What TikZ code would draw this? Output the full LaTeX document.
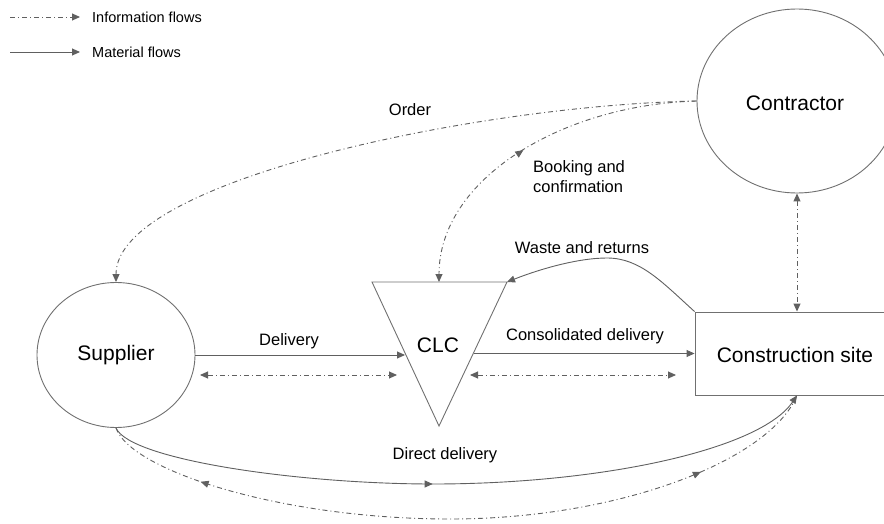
\documentclass[tikz,border=0pt]{standalone}
\usepackage{fontspec}
\setmainfont{Liberation Sans}
\usetikzlibrary{arrows.meta,shapes.geometric,decorations.markings,calc}

\definecolor{edgegray}{RGB}{96,96,96}
\definecolor{shapegray}{RGB}{112,112,112}

\tikzset{
  >={Triangle[length=8pt,width=7pt]},
  shapeline/.style={draw=shapegray, line width=0.9pt},
  bigtext/.style={font=\fontsize{21}{25}\selectfont, text=black, inner sep=0pt},
  lbltext/.style={font=\fontsize{16.5}{20}\selectfont, text=black, inner sep=0pt},
  legtext/.style={font=\fontsize{14.5}{17}\selectfont, text=black, inner sep=0pt, anchor=west},
  matflow/.style={color=edgegray, line width=0.9pt},
  infoflow/.style={color=edgegray, line width=0.9pt, dash pattern=on 5pt off 3pt on 1pt off 3pt},
  midfwd/.style={postaction={decorate, decoration={markings, mark=at position #1 with {\arrow{>}}}}},
  midback/.style={postaction={decorate, decoration={markings, mark=at position #1 with {\arrow{<}}}}},
}

\begin{document}
\begin{tikzpicture}[x=1pt, y=-1pt]
\useasboundingbox (0,0) rectangle (884,524);

% legend
\coordinate (legInfoA) at (10,17);
\coordinate (legInfoB) at (80,17);
\coordinate (legMatA) at (10,52);
\coordinate (legMatB) at (80,52);
\draw[infoflow, ->] (legInfoA) -- (legInfoB);
\draw[matflow, ->] (legMatA) -- (legMatB);
\node[legtext] (legInfo) at (92,17) {Information flows};
\node[legtext] (legMat) at (92,52) {Material flows};

% actors
\node[ellipse, shapeline, minimum width=158pt, minimum height=145pt, inner sep=0pt] (sup) at (116,355) {};
\node[bigtext] (supText) at (116,355) {Supplier};
\node[ellipse, shapeline, minimum width=200pt, minimum height=184pt, inner sep=0pt] (con) at (797,101) {};
\node[bigtext] (conText) at (795,103) {Contractor};
\node[rectangle, shapeline, minimum width=204pt, minimum height=83pt, inner sep=0pt] (site) at (797,353.5) {};
\node[bigtext] (siteText) at (795,355) {Construction site};

% consolidation centre (downward triangle)
\coordinate (clcTL) at (372,282);
\coordinate (clcTR) at (507,282);
\coordinate (clcB) at (439,426);
\draw[shapeline, line join=miter] (clcTL) -- (clcTR) -- (clcB) -- cycle;
\node[bigtext] (clc) at (438,345) {CLC};
\coordinate (clcTop) at (439,282);
\coordinate (clcInL) at (405,355);
\coordinate (clcInfoL) at (397,375);
\coordinate (clcOutR) at (474,353.5);
\coordinate (clcInfoR) at (470,375);
\coordinate (supInfo) at (200,375);
\coordinate (siteInfo) at (676,375);

% material flows
\draw[matflow, ->] (sup.east) -- (clcInL);
\draw[matflow, ->] (clcOutR) -- (site.west);
\draw[matflow, ->] (site.north west) .. controls (662,282) and (640,258) .. (607,258)
  .. controls (578,258) and (540,269) .. (clcTR);
\draw[matflow, ->, midfwd=0.46] (sup.south) .. controls (130,460) and (300,484) .. (433,484)
  .. controls (600,484) and (760,450) .. (site.south);

% information flows
\draw[infoflow, <->] (supInfo) -- (clcInfoL);
\draw[infoflow, <->] (clcInfoR) -- (siteInfo);
\draw[infoflow, <->] (con.south) -- (site.north);
\draw[infoflow, ->] (con.west) .. controls (480,105) and (116,180) .. (sup.north);
\draw[infoflow, ->, midback=0.55] (con.west) .. controls (560,105) and (439,180) .. (clcTop);
\draw[infoflow, midback=0.15, midfwd=0.83] (sup.south) .. controls (130,470) and (280,519) .. (450,519)
  .. controls (620,519) and (770,460) .. (site.south);

% flow labels
\node[lbltext] (lblOrder) at (410,110) {Order};
\node[lbltext, anchor=west, align=left] (lblBooking) at (533,177) {Booking and\\confirmation};
\node[lbltext] (lblWaste) at (582,248) {Waste and returns};
\node[lbltext] (lblDelivery) at (289,341) {Delivery};
\node[lbltext] (lblConsol) at (585,336) {Consolidated delivery};
\node[lbltext] (lblDirect) at (445,455) {Direct delivery};
\end{tikzpicture}
\end{document}
